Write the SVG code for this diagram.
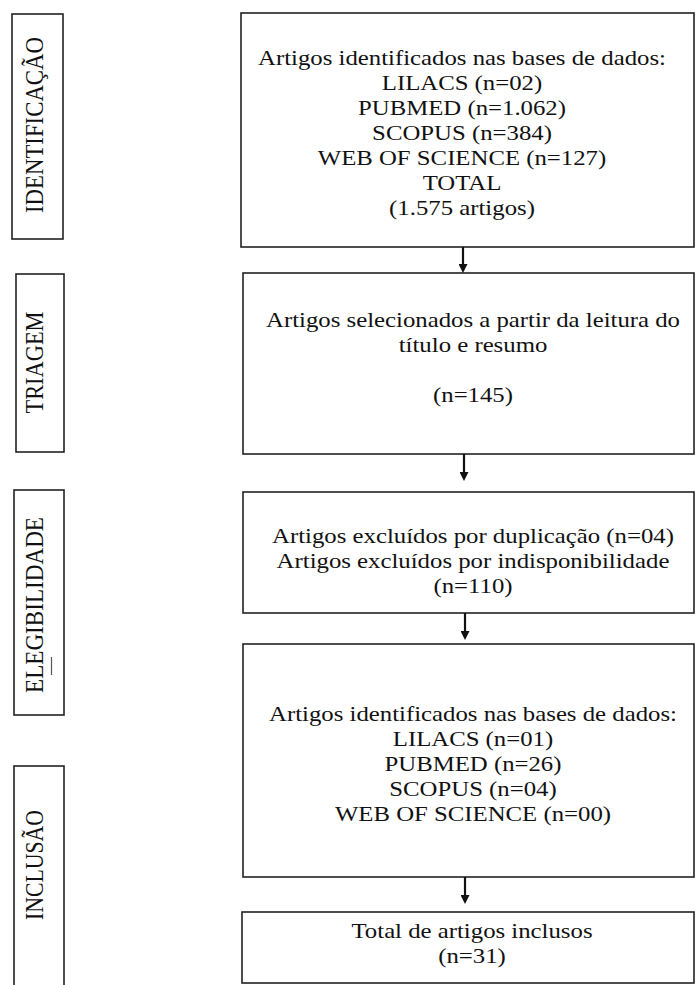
<svg xmlns="http://www.w3.org/2000/svg" width="695" height="985" viewBox="0 0 695 985">
<style>
  .box { fill: #ffffff; stroke: #222222; stroke-width: 1.6; }
  .t { font-family: "Liberation Serif", "Times New Roman", serif; font-size: 21px; fill: #111111; text-anchor: middle; }
  .lbl { font-family: "Liberation Serif", "Times New Roman", serif; font-size: 22px; fill: #111111; text-anchor: middle; }
  .conn { stroke: #111111; stroke-width: 2.2; fill: none; }
</style>
<defs>
  <marker id="ah" viewBox="0 0 9 9" markerWidth="9" markerHeight="9" refX="3" refY="4.5" orient="auto" markerUnits="userSpaceOnUse">
    <path d="M0,0 L9,4.5 L0,9 z" fill="#111111"/>
  </marker>
</defs>
<rect width="695" height="985" fill="#ffffff"/>

<g id="label-identificacao">
  <rect class="box" x="12" y="14" width="51" height="225"/>
  <text class="lbl" transform="translate(43,125) scale(1.15,1) rotate(-90)" x="0" y="0" textLength="176" lengthAdjust="spacingAndGlyphs">IDENTIFICAÇÃO</text>
</g>
<g id="label-triagem">
  <rect class="box" x="16" y="274" width="48" height="178"/>
  <text class="lbl" transform="translate(43,362.5) scale(1.15,1) rotate(-90)" x="0" y="0" textLength="102" lengthAdjust="spacingAndGlyphs">TRIAGEM</text>
</g>
<g id="label-elegibilidade">
  <rect class="box" x="14" y="490" width="50" height="225"/>
  <text class="lbl" transform="translate(43,605) scale(1.15,1) rotate(-90)" x="0" y="0" textLength="176" lengthAdjust="spacingAndGlyphs">ELEGIBILIDADE</text>
  <line x1="51.5" y1="657" x2="51.5" y2="675" stroke="#555555" stroke-width="1.2"/>
</g>
<g id="label-inclusao">
  <rect class="box" x="14" y="766" width="50" height="230"/>
  <text class="lbl" transform="translate(43,865) scale(1.15,1) rotate(-90)" x="0" y="0" textLength="110" lengthAdjust="spacingAndGlyphs">INCLUSÃO</text>
</g>

<g id="box-identificados">
  <rect class="box" x="241" y="13" width="453" height="234"/>
  <g transform="translate(462,0) scale(1.18,1)">
    <text class="t" x="0" y="65">Artigos identificados nas bases de dados:</text>
    <text class="t" x="0" y="90">LILACS (n=02)</text>
    <text class="t" x="0" y="115">PUBMED (n=1.062)</text>
    <text class="t" x="0" y="140">SCOPUS (n=384)</text>
    <text class="t" x="0" y="165">WEB OF SCIENCE (n=127)</text>
    <text class="t" x="0" y="190">TOTAL</text>
    <text class="t" x="0" y="215">(1.575 artigos)</text>
  </g>
</g>

<g id="box-selecionados">
  <rect class="box" x="243" y="273" width="451" height="181"/>
  <g transform="translate(473,0) scale(1.18,1)">
    <text class="t" x="0" y="327">Artigos selecionados a partir da leitura do</text>
    <text class="t" x="0" y="352">título e resumo</text>
    <text class="t" x="0" y="402">(n=145)</text>
  </g>
</g>

<g id="box-excluidos">
  <rect class="box" x="243" y="492" width="451" height="121"/>
  <g transform="translate(473,0) scale(1.18,1)">
    <text class="t" x="0" y="543">Artigos excluídos por duplicação (n=04)</text>
    <text class="t" x="0" y="568">Artigos excluídos por indisponibilidade</text>
    <text class="t" x="0" y="593">(n=110)</text>
  </g>
</g>

<g id="box-inclusao-bases">
  <rect class="box" x="243" y="644" width="451" height="233"/>
  <g transform="translate(473,0) scale(1.18,1)">
    <text class="t" x="0" y="721">Artigos identificados nas bases de dados:</text>
    <text class="t" x="0" y="746">LILACS (n=01)</text>
    <text class="t" x="0" y="771">PUBMED (n=26)</text>
    <text class="t" x="0" y="796">SCOPUS (n=04)</text>
    <text class="t" x="0" y="821">WEB OF SCIENCE (n=00)</text>
  </g>
</g>

<g id="box-total">
  <rect class="box" x="242" y="912" width="452" height="71"/>
  <g transform="translate(472,0) scale(1.18,1)">
    <text class="t" x="0" y="938">Total de artigos inclusos</text>
    <text class="t" x="0" y="963">(n=31)</text>
  </g>
</g>

<g id="connectors">
  <line class="conn" x1="463" y1="247" x2="463" y2="267" marker-end="url(#ah)"/>
  <line class="conn" x1="464" y1="454" x2="464" y2="475" marker-end="url(#ah)"/>
  <line class="conn" x1="465" y1="613" x2="465" y2="634" marker-end="url(#ah)"/>
  <line class="conn" x1="465" y1="877" x2="465" y2="898" marker-end="url(#ah)"/>
</g>
</svg>
